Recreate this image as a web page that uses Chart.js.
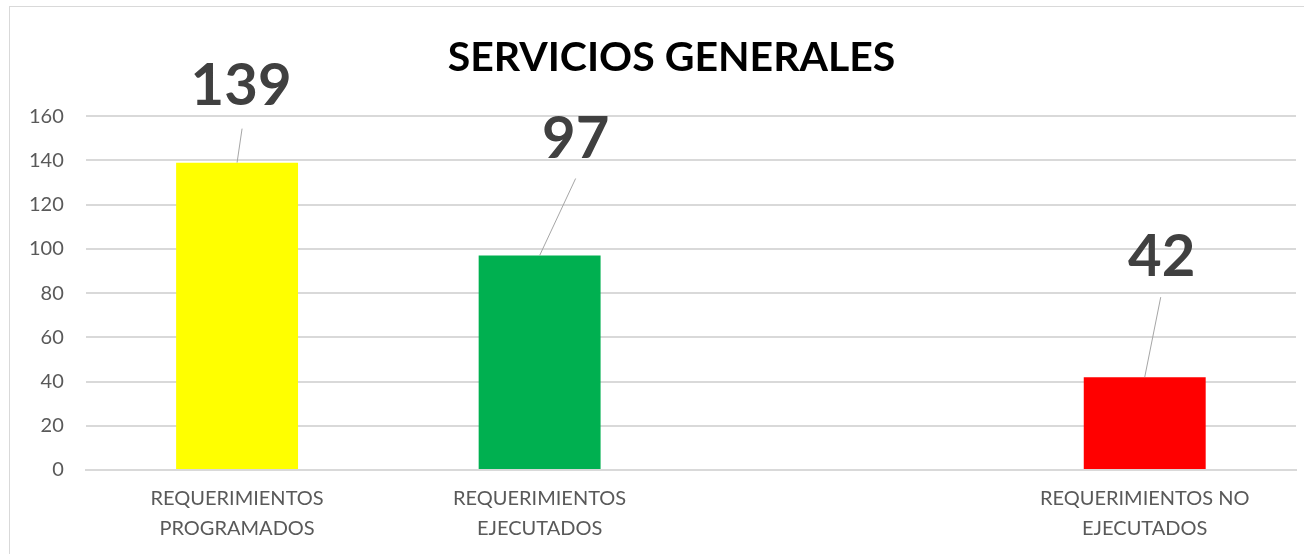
<!DOCTYPE html>
<html>
<head>
<meta charset="utf-8">
<script src="https://cdn.jsdelivr.net/npm/chart.js@4/dist/chart.umd.min.js"></script>
<style>
  body { margin: 0; background: #fff; }
  #wrap { width: 1304px; height: 554px; }
</style>
</head>
<body>
<div id="wrap"><canvas id="chart" width="1304" height="554"></canvas></div>
<script>
let chartTitle = "SERVICIOS GENERALES";
let categories = [
    ["REQUERIMIENTOS", "PROGRAMADOS"],
    ["REQUERIMIENTOS", "EJECUTADOS"],
    "",
    ["REQUERIMIENTOS NO", "EJECUTADOS"]
];
let values = [139, 97, null, 42];
let barColors = ["#FFFF00", "#00B050", "#FFFFFF", "#FF0000"];
let yTicks = [0, 20, 40, 60, 80, 100, 120, 140, 160];

// where each value label sits relative to the top of its bar
let labelOffsets = [
    { dx: 4, dy: -76, lx: 5, ly: -34 },
    { dx: 36, dy: -116, lx: 36, ly: -77 },
    null,
    { dx: 17, dy: -120, lx: 16, ly: -80 }
];

// the outer frame runs past the right edge of the picture
let frame = {
    id: "frame",
    beforeDraw(chart) {
        let ctx = chart.ctx;
        ctx.save();
        ctx.fillStyle = "#fff";
        ctx.fillRect(0, 0, chart.width, chart.height);
        ctx.strokeStyle = "#d9d9d9";
        ctx.lineWidth = 1;
        ctx.strokeRect(9.5, 6.5, chart.width + 20, chart.height + 20);
        ctx.restore();
    },
    afterDraw(chart) {
        // title centred on the frame, not on the canvas
        let tb = chart.titleBlock;
        let ctx = chart.ctx;
        ctx.save();
        ctx.fillStyle = "#000";
        ctx.font = "bold 41px Lato";
        ctx.textAlign = "center";
        ctx.textBaseline = "middle";
        let x = (9 + chart.width + 30) / 2;
        let y = tb.top + 19 + 41 * 1.2 / 2;
        ctx.fillText(chartTitle, x, y);
        ctx.restore();
    }
};

let valueLabels = {
    id: "valueLabels",
    afterDatasetsDraw(chart) {
        let ctx = chart.ctx;
        let meta = chart.getDatasetMeta(0);
        ctx.save();
        meta.data.forEach((bar, i) => {
            let off = labelOffsets[i];
            if (values[i] == null || !off) return;
            ctx.strokeStyle = "#a6a6a6";
            ctx.lineWidth = 1;
            ctx.beginPath();
            ctx.moveTo(bar.x, bar.y);
            ctx.lineTo(bar.x + off.lx, bar.y + off.ly);
            ctx.stroke();
            ctx.fillStyle = "#404040";
            ctx.font = "bold 58px Lato";
            ctx.textAlign = "center";
            ctx.textBaseline = "middle";
            ctx.fillText(String(values[i]), bar.x + off.dx, bar.y + off.dy);
        });
        ctx.restore();
    }
};

new Chart(document.getElementById("chart"), {
    type: "bar",
    data: {
        labels: categories,
        datasets: [{
            data: values,
            backgroundColor: barColors,
            categoryPercentage: 1,
            barPercentage: 0.403
        }]
    },
    options: {
        responsive: false,
        animation: false,
        layout: { padding: { left: 7, right: 8, top: 14, bottom: 4 } },
        plugins: {
            legend: { display: false },
            tooltip: { enabled: false },
            title: {
                display: true,
                text: chartTitle,
                color: "rgba(0,0,0,0)",
                font: { family: "Lato", size: 41, weight: "bold" },
                padding: { top: 19, bottom: 34 }
            }
        },
        scales: {
            x: {
                grid: { display: false },
                border: { color: "#d9d9d9", width: 2 },
                ticks: {
                    color: "#595959",
                    font: { family: "Lato", size: 20, lineHeight: 1.5 },
                    padding: 6,
                    maxRotation: 0,
                    autoSkip: false
                }
            },
            y: {
                min: 0,
                max: 160,
                afterBuildTicks(axis) {
                    axis.ticks = yTicks.map(v => ({ value: v }));
                },
                grid: { color: "#d9d9d9", lineWidth: 2, drawTicks: false },
                border: { display: false },
                ticks: {
                    color: "#595959",
                    font: { family: "Lato", size: 20 },
                    padding: 22
                }
            }
        }
    },
    plugins: [frame, valueLabels]
});
</script>
</body>
</html>
